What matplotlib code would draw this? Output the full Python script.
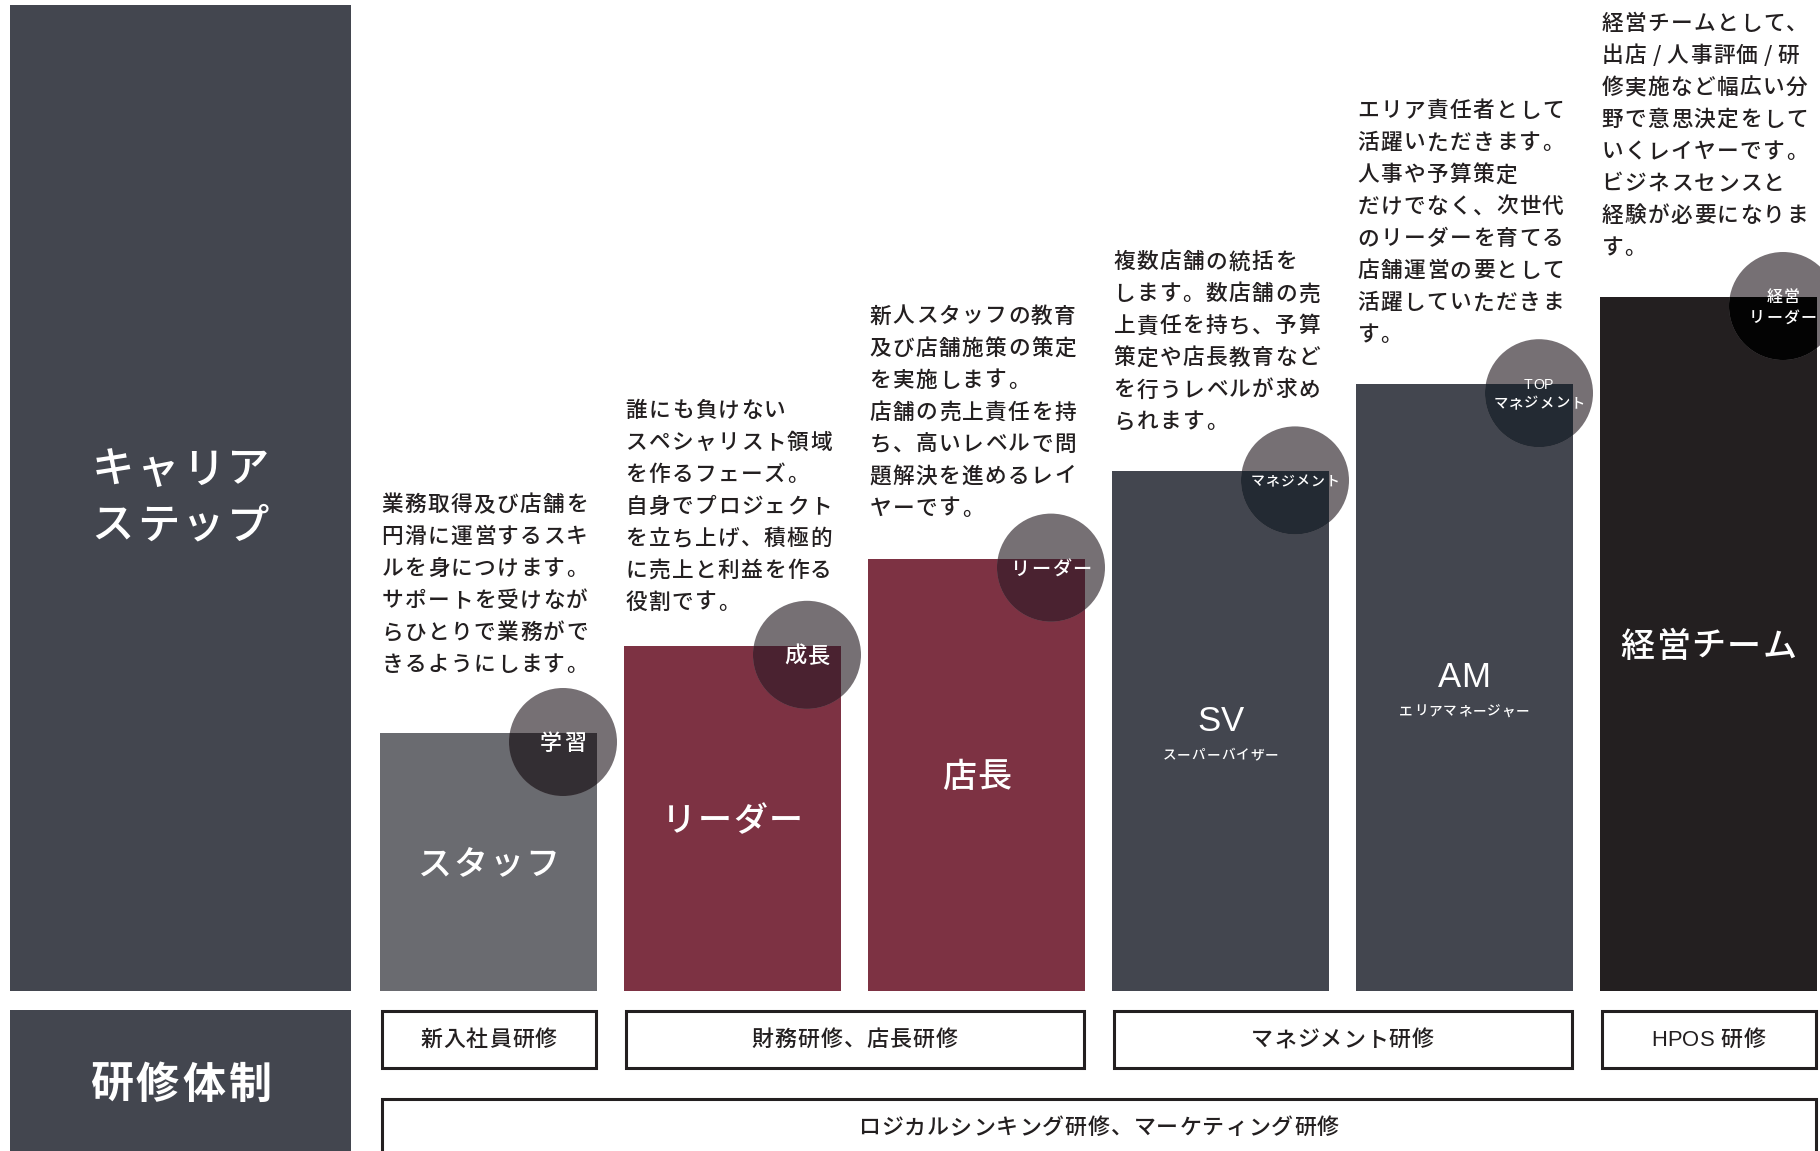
import matplotlib
matplotlib.use('Agg')
import matplotlib.pyplot as plt
from matplotlib.patches import Rectangle, Circle
from matplotlib.font_manager import FontProperties, findfont, get_font
try:
    from matplotlib.ft2font import LoadFlags
    NO_HINT = LoadFlags.NO_HINTING
except ImportError:
    NO_HINT = 2

plt.rcParams['font.family'] = ['Noto Sans CJK JP', 'DejaVu Sans']

W, H, DPI = 1820, 1151, 100
JP = 'Noto Sans CJK JP'
LATIN = 'Liberation Sans'
INK = '#231f20'

# --- データ ---
roles = ['スタッフ', 'リーダー', '店長', 'SV', 'AM', '経営チーム']
role_sub = ['', '', '', 'スーパーバイザー', 'エリアマネージャー', '']
levels = [3, 4, 5, 6, 7, 8]
badges = ['学習', '成長', 'リーダー', 'マネジメント', 'TOP\nマネジメント', '経営\nリーダー']

desc_staff = ['業務取得及び店舗を', '円滑に運営するスキ', 'ルを身につけます。',
              'サポートを受けなが', 'らひとりで業務がで', 'きるようにします。']
desc_leader = ['誰にも負けない', 'スペシャリスト領域', 'を作るフェーズ。',
               '自身でプロジェクト', 'を立ち上げ、積極的', 'に売上と利益を作る', '役割です。']
desc_tencho = ['新人スタッフの教育', '及び店舗施策の策定', 'を実施します。',
               '店舗の売上責任を持', 'ち、高いレベルで問', '題解決を進めるレイ', 'ヤーです。']
desc_sv = ['複数店舗の統括を', 'します。数店舗の売', '上責任を持ち、予算',
           '策定や店長教育など', 'を行うレベルが求め', 'られます。']
desc_am = ['エリア責任者として', '活躍いただきます。', '人事や予算策定',
           'だけでなく、次世代', 'のリーダーを育てる', '店舗運営の要として',
           '活躍していただきま', 'す。']
desc_top = ['経営チームとして、', '出店 / 人事評価 / 研', '修実施など幅広い分',
            '野で意思決定をして', 'いくレイヤーです。', 'ビジネスセンスと',
            '経験が必要になりま', 'す。']
descs = [desc_staff, desc_leader, desc_tencho, desc_sv, desc_am, desc_top]

# 研修: ラベル, 最初の列, 最後の列
trainings = [('新入社員研修', 0, 0), ('財務研修、店長研修', 1, 2),
             ('マネジメント研修', 3, 4), ('HPOS 研修', 5, 5)]
common_training = ('ロジカルシンキング研修、マーケティング研修', 0, 5)

# --- スタイル ---
bar_colors = ['#6a6b70', '#7d3243', '#7d3243', '#43464f', '#43464f', '#231f20']
badge_inner = ['#332e33', '#4a2230', '#4a2230', '#232a33', '#232a33', '#030303']
badge_outer = '#767074'
panel_color = '#43464f'
badge_size = [15.8, 16.0, 13.8, 10.0, 10.3, 11.5]
desc_gap = [70, 45, 52, 51, 51, 51]
MED = 'medium'

x0, pitch, bw = 380, 244, 217
base, unit = 991, 87.2


def advances(s, size, weight, latin):
    out = []
    for ch in s:
        fam = latin if ord(ch) < 128 else JP
        f = get_font(findfont(FontProperties(family=fam, weight=weight)))
        f.set_size(size, DPI)
        try:
            g = f.load_char(ord(ch), flags=NO_HINT)
            out.append(g.linearHoriAdvance / 65536)
        except Exception:
            out.append(size * DPI / 72)
    return out


def put(ax, x, y, s, size, gap=0.0, ha='left', color=INK, weight=MED, latin=JP):
    """文字間隔つきでテキストを描く (y は文字の中心)"""
    px = size * DPI / 72
    adv = advances(s, size, weight, latin)
    # 英数字は字間を詰める
    gaps = [gap * (0.2 if ord(ch) < 128 else 1.0) for ch in s]
    total = sum(adv) + sum(gaps[:-1])
    if ha == 'center':
        x -= total / 2
    yb = y + 0.37 * px
    for ch, a, g in zip(s, adv, gaps):
        fam = latin if ord(ch) < 128 else JP
        ax.text(x, yb, ch, fontsize=size, family=fam, weight=weight, color=color,
                ha='left', va='baseline', zorder=6)
        x += a + g


fig = plt.figure(figsize=(W / DPI, H / DPI), dpi=DPI)
ax = fig.add_axes([0, 0, 1, 1])
ax.set_xlim(0, W)
ax.set_ylim(H, 0)
ax.axis('off')

# 左のパネル
ax.add_patch(Rectangle((10, 5), 341, base - 5, color=panel_color, lw=0))
ax.add_patch(Rectangle((10, 1010), 341, 160, color=panel_color, lw=0))
put(ax, 180.5, 467, 'キャリア', 30.5, gap=3.0, ha='center', color='white')
put(ax, 180.5, 523, 'ステップ', 30.5, gap=3.0, ha='center', color='white')
put(ax, 180.5, 1082, '研修体制', 31, gap=3.0, ha='center', color='white', weight='bold')

# 棒
lefts = [x0 + pitch * i for i in range(len(levels))]
heights = [-(lv * unit - 3.6) for lv in levels]
bars = ax.bar(lefts, heights, bottom=base, width=bw, align='edge',
              color=bar_colors, lw=0, zorder=1)

for i, p in enumerate(bars.patches):
    left = p.get_x()
    right = left + p.get_width()
    top = base + p.get_height()
    cx = left + bw / 2

    # バッジの円
    c = (right - 34, top + 9)
    ax.add_patch(Circle(c, 54, color=badge_outer, lw=0, zorder=2))
    inner = Circle(c, 54, color=badge_inner[i], lw=0, zorder=3)
    ax.add_patch(inner)
    inner.set_clip_path(p)
    lines = badges[i].split('\n')
    bs = badge_size[i]
    lp = 1.3 * bs * DPI / 72
    for k, ln in enumerate(lines):
        yy = c[1] + (k - (len(lines) - 1) / 2) * lp
        put(ax, c[0], yy, ln, bs, gap=0.08 * bs * DPI / 72, ha='center',
            color='white', latin=LATIN)

    # 役職名
    mid = (top + base) / 2
    if role_sub[i]:
        put(ax, cx, mid - 13, roles[i], 25, ha='center', color='white', latin=LATIN)
        put(ax, cx, mid + 23, role_sub[i], 9.8, gap=1.0, ha='center', color='white')
    else:
        put(ax, cx, mid, roles[i], 24.5, gap=1.5, ha='center', color='white')

    # 説明文
    n = len(descs[i])
    for j, ln in enumerate(descs[i]):
        yy = top - desc_gap[i] - (n - 1 - j) * 32
        put(ax, left + 1.5, yy, ln, 15.6, gap=1.4)

# 研修の枠
def training_box(label, a, b, y_top):
    xl = lefts[a]
    xr = lefts[b] + bw
    ax.add_patch(Rectangle((xl + 1.5, y_top + 1.5), xr - xl - 3, 57,
                           facecolor='white', edgecolor=INK, lw=2.2, zorder=4))
    put(ax, (xl + xr) / 2, y_top + 29, label, 15.8, gap=1.0, ha='center', latin=LATIN)

for label, a, b in trainings:
    training_box(label, a, b, 1009)
training_box(*common_training, 1097)

fig.savefig('out.png', dpi=DPI, facecolor='white')
